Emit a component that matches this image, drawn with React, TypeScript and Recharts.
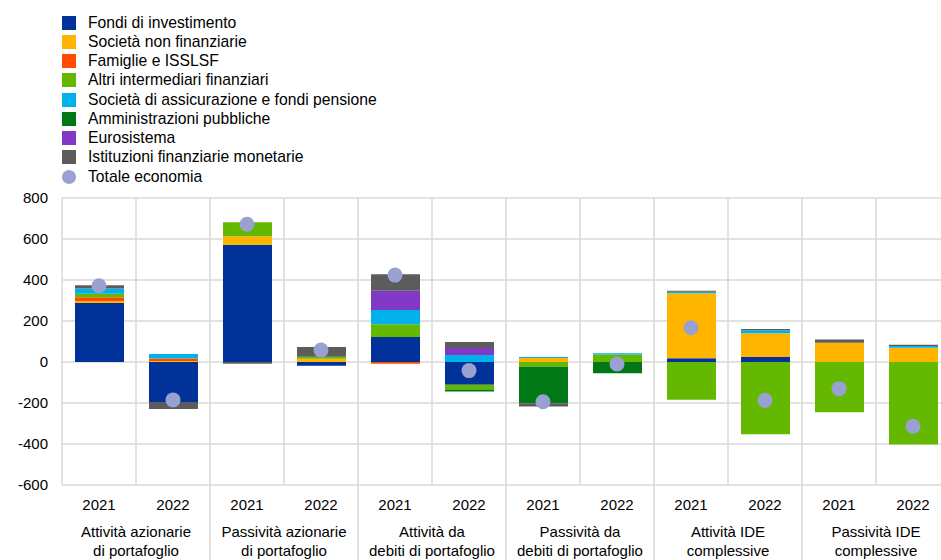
import React from 'react';
import { Bar, CartesianGrid, ComposedChart, Line, XAxis, YAxis } from 'recharts';

const GROUPS = [
  ['Attività azionarie', 'di portafoglio'],
  ['Passività azionarie', 'di portafoglio'],
  ['Attività da', 'debiti di portafoglio'],
  ['Passività da', 'debiti di portafoglio'],
  ['Attività IDE', 'complessive'],
  ['Passività IDE', 'complessive'],
];
const YEARS = ['2021', '2022'];

// one value per category: group x year
const FONDI = [288, -195, 572, -18, 122, -111, 0, 0, 18, 25, 0, 0];
const SNF = [10, 5, 42, 16, 0, 0, 20, 0, 317, 115, 94, 70];
const FAMIGLIE = [18, 12, 0, 0, -8, 0, 0, 0, 0, 0, 0, 0];
const ALTRI = [17, 0, 68, 10, 62, -23, -23, 37, -184, -353, -245, -403];
const ASSIC = [26, 22, 0, 0, 70, 34, 5, 6, 8, 15, 0, 8];
const AP = [0, 0, 0, 0, 0, -10, -178, -55, 0, 0, 0, 0];
const EURO = [0, 0, 0, 0, 93, 34, 0, 0, 0, 0, 0, 0];
const IFM = [15, -34, -8, 47, 81, 29, -16, 0, 5, 6, 16, 6];
const TOTALE = [372, -185, 672, 58, 424, -42, -194, -10, 167, -187, -130, -314];

const Y_TICKS = [-600, -400, -200, 0, 200, 400, 600, 800];

const SERIES = [
  { key: 'fondi', name: 'Fondi di investimento', color: '#003299', values: FONDI },
  { key: 'snf', name: 'Società non finanziarie', color: '#FFB400', values: SNF },
  { key: 'famiglie', name: 'Famiglie e ISSLSF', color: '#FF4B00', values: FAMIGLIE },
  { key: 'altri', name: 'Altri intermediari finanziari', color: '#65B800', values: ALTRI },
  { key: 'assic', name: 'Società di assicurazione e fondi pensione', color: '#00B1EA', values: ASSIC },
  { key: 'ap', name: 'Amministrazioni pubbliche', color: '#007816', values: AP },
  { key: 'euro', name: 'Eurosistema', color: '#8139C6', values: EURO },
  { key: 'ifm', name: 'Istituzioni finanziarie monetarie', color: '#5C5C5C', values: IFM },
];
const TOTALE_NAME = 'Totale economia';
const TOTALE_COLOR = '#98A1D0';

const CHART_W = 960;
const CHART_H = 560;
const MARGIN = { top: 198, right: 10, bottom: 0, left: 0 };
const Y_W = 62;
const X_H = 75;
const FONT = '"Liberation Sans", Arial, sans-serif';
const AXIS_FS = 15;

const chartData = GROUPS.flatMap((g, gi) =>
  YEARS.map((yr, yi) => {
    const i = gi * 2 + yi;
    const row: Record<string, any> = { cat: `${gi}-${yr}`, totale: TOTALE[i] };
    SERIES.forEach((s) => {
      row[s.key] = s.values[i];
    });
    return row;
  })
);

const n = chartData.length;
const bandW = (CHART_W - MARGIN.left - MARGIN.right - Y_W) / n;

function CategoryTick(props: any) {
  const { x, y, payload } = props;
  const i = payload.index;
  const year = YEARS[i % 2];
  const group = GROUPS[Math.floor(i / 2)];
  const gx = x + bandW / 2;
  return (
    <g>
      <text x={x} y={y + 25} textAnchor="middle" fontSize={AXIS_FS} fill="#000" fontFamily={FONT}>
        {year}
      </text>
      {i % 2 === 0 && (
        <>
          {i > 0 && (
            <line x1={x - bandW / 2} x2={x - bandW / 2} y1={y} y2={y + X_H} stroke="#d9d9d9" strokeWidth={1.5} />
          )}
          <text x={gx} y={y + 52} textAnchor="middle" fontSize={AXIS_FS} fill="#000" fontFamily={FONT}>
            {group[0]}
          </text>
          <text x={gx} y={y + 71} textAnchor="middle" fontSize={AXIS_FS} fill="#000" fontFamily={FONT}>
            {group[1]}
          </text>
        </>
      )}
    </g>
  );
}

function LegendBox() {
  const items = [
    ...SERIES.map((s) => ({ name: s.name, color: s.color, round: false })),
    { name: TOTALE_NAME, color: TOTALE_COLOR, round: true },
  ];
  return (
    <div style={{ position: 'absolute', left: 62, top: 13, fontFamily: FONT, fontSize: 15.7, color: '#000' }}>
      {items.map((it) => (
        <div key={it.name} style={{ display: 'flex', alignItems: 'center', height: 19.25 }}>
          <div
            style={{
              width: 14,
              height: 14,
              background: it.color,
              borderRadius: it.round ? '50%' : 0,
              marginRight: 12,
              flexShrink: 0,
            }}
          />
          <span style={{ whiteSpace: 'nowrap' }}>{it.name}</span>
        </div>
      ))}
    </div>
  );
}

export default function App() {
  return (
    <div
      style={{
        position: 'fixed',
        left: 0,
        top: 0,
        width: 941,
        height: 560,
        overflow: 'hidden',
        background: '#fff',
        fontFamily: FONT,
      }}
    >
      <LegendBox />
      <ComposedChart width={CHART_W} height={CHART_H} data={chartData} margin={MARGIN} stackOffset="sign">
        <CartesianGrid
          stroke="#d9d9d9"
          strokeWidth={1.5}
          verticalCoordinatesGenerator={({ offset }: any) =>
            Array.from({ length: n + 1 }, (_, k) => offset.left + (k * offset.width) / n)
          }
        />
        <XAxis
          dataKey="cat"
          axisLine={false}
          tickLine={false}
          tickSize={0}
          tickMargin={0}
          height={X_H}
          interval={0}
          tick={<CategoryTick />}
        />
        <YAxis
          domain={[-600, 800]}
          ticks={Y_TICKS}
          width={Y_W}
          axisLine={false}
          tickLine={false}
          tickMargin={8}
          tick={{ fontSize: AXIS_FS, fill: '#000', fontFamily: FONT }}
        />
        {SERIES.map((s) => (
          <Bar
            key={s.key}
            dataKey={s.key}
            name={s.name}
            stackId="a"
            fill={s.color}
            barSize={49}
            isAnimationActive={false}
          />
        ))}
        <Line
          dataKey="totale"
          name={TOTALE_NAME}
          stroke="none"
          dot={{ r: 7.5, fill: TOTALE_COLOR, stroke: 'none' }}
          activeDot={false}
          isAnimationActive={false}
        />
      </ComposedChart>
    </div>
  );
}
